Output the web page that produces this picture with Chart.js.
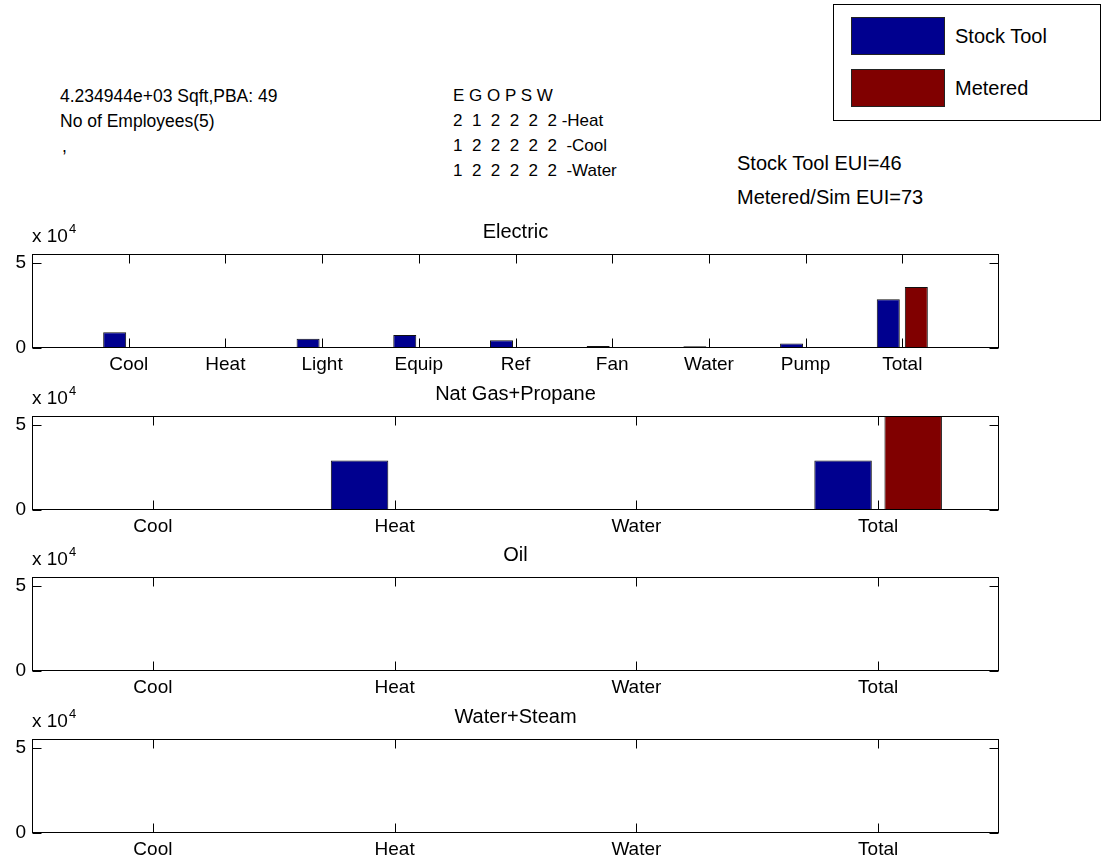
<!DOCTYPE html>
<html>
<head>
<meta charset="utf-8">
<script src="https://cdn.jsdelivr.net/npm/chart.js@4.4.1/dist/chart.umd.min.js"></script>
<style>
  body { margin: 0; background: #fff; }
  #fig { position: relative; width: 1109px; height: 866px; overflow: hidden; background: #fff;
         font-family: "Liberation Sans", Arial, Helvetica, sans-serif; color: #000; }
  .note { position: absolute; white-space: pre; line-height: 22px; }
  .panel { position: absolute; left: 0; width: 1109px; }
  #legend { position: absolute; left: 833px; top: 4px; width: 268px; height: 117px;
            border: 1px solid #000; box-sizing: border-box; background: #fff; }
  #legend .sw { position: absolute; left: 17px; width: 94px; height: 38px; border: 1px solid #222; box-sizing: border-box; }
  #legend .lab { position: absolute; left: 121px; font-size: 20px; line-height: 22px; }
</style>
</head>
<body>
<div id="fig"></div>
<script>
// energy end uses, values in kWh
const electricCats = ['Cool', 'Heat', 'Light', 'Equip', 'Ref', 'Fan', 'Water', 'Pump', 'Total'];
const electricStock = [9200, 0, 5400, 7600, 4500, 1100, 1000, 2700, 28500];
const electricMetered = [0, 0, 0, 0, 0, 0, 0, 0, 35700];

const fuelCats = ['Cool', 'Heat', 'Water', 'Total'];
const gasStock = [0, 29000, 0, 29000];
const gasMetered = [0, 0, 0, 55000];
const oilStock = [0, 0, 0, 0];
const oilMetered = [0, 0, 0, 0];
const steamStock = [0, 0, 0, 0];
const steamMetered = [0, 0, 0, 0];

const seriesNames = ['Stock Tool', 'Metered'];
const seriesColors = ['#00008F', '#800000'];
const yTickValues = [0, 50000];
const yExponent = 4;

const yMax = Math.max(...electricStock, ...electricMetered, ...gasStock, ...gasMetered,
                      ...oilStock, ...oilMetered, ...steamStock, ...steamMetered);

const panels = [
  { title: 'Electric', cats: electricCats, stock: electricStock, metered: electricMetered, xmin: 0, xmax: 10, top: 254 },
  { title: 'Nat Gas+Propane', cats: fuelCats, stock: gasStock, metered: gasMetered, xmin: 0.5, xmax: 4.5, top: 416 },
  { title: 'Oil', cats: fuelCats, stock: oilStock, metered: oilMetered, xmin: 0.5, xmax: 4.5, top: 577 },
  { title: 'Water+Steam', cats: fuelCats, stock: steamStock, metered: steamMetered, xmin: 0.5, xmax: 4.5, top: 739 }
];

const FONT = '"Liberation Sans", Arial, Helvetica, sans-serif';
const AX_H = 94;        // plot box height
const HEAD = 43;        // space above the plot box inside each canvas
const FOOT = 30;        // space for the category labels
const TICK = 9;

const fig = document.getElementById('fig');

// text annotations
function note(text, x, cy, size) {
  const d = document.createElement('div');
  d.className = 'note';
  d.textContent = text;
  d.style.left = x + 'px';
  d.style.top = (cy - 11) + 'px';
  d.style.fontSize = size + 'px';
  fig.appendChild(d);
}
note('4.234944e+03 Sqft,PBA: 49', 60, 96, 17.5);
note('No of Employees(5)', 60, 121, 17.5);
note(',', 62, 146, 17.5);
note('E G O P S W', 453, 96, 17);
note('2  1  2  2  2  2 -Heat', 453, 121, 17);
note('1  2  2  2  2  2  -Cool', 453, 146, 17);
note('1  2  2  2  2  2  -Water', 453, 171, 17);
note('Stock Tool EUI=46', 737, 163, 20);
note('Metered/Sim EUI=73', 737, 197, 20);

// legend
const legend = document.createElement('div');
legend.id = 'legend';
seriesNames.forEach((name, i) => {
  const sw = document.createElement('div');
  sw.className = 'sw';
  sw.style.top = (12 + i * 52) + 'px';
  sw.style.background = seriesColors[i];
  legend.appendChild(sw);
  const lab = document.createElement('div');
  lab.className = 'lab';
  lab.style.top = (20 + i * 52) + 'px';
  lab.textContent = name;
  legend.appendChild(lab);
});
fig.appendChild(legend);

// box, inward ticks and the axis multiplier
const boxPlugin = {
  id: 'box',
  afterDatasetsDraw(chart) {
    const { ctx, chartArea: a, scales: { x, y } } = chart;
    const L = Math.round(a.left) + 0.5, R = Math.round(a.right) - 0.5;
    const T = Math.round(a.top) + 0.5, B = Math.round(a.bottom) - 0.5;
    ctx.save();
    ctx.strokeStyle = '#000';
    ctx.lineWidth = 1;
    ctx.beginPath();
    x.ticks.forEach((t, i) => {
      const px = Math.round(x.getPixelForTick(i)) + 0.5;
      ctx.moveTo(px, B); ctx.lineTo(px, B - TICK);
      ctx.moveTo(px, T); ctx.lineTo(px, T + TICK);
    });
    y.ticks.forEach((t, i) => {
      const py = Math.round(y.getPixelForTick(i)) + 0.5;
      ctx.moveTo(L, py); ctx.lineTo(L + TICK, py);
      ctx.moveTo(R, py); ctx.lineTo(R - TICK, py);
    });
    ctx.stroke();
    ctx.strokeRect(L, T, R - L, B - T);

    ctx.fillStyle = '#000';
    ctx.textBaseline = 'middle';
    ctx.textAlign = 'left';
    ctx.font = '19px ' + FONT;
    const base = 'x 10';
    ctx.fillText(base, a.left, a.top - 17);
    const w = ctx.measureText(base).width;
    ctx.font = '13px ' + FONT;
    ctx.fillText(String(yExponent), a.left + w + 1, a.top - 25);
    ctx.restore();
  }
};

panels.forEach(p => {
  const wrap = document.createElement('div');
  wrap.className = 'panel';
  wrap.style.top = (p.top - HEAD) + 'px';
  wrap.style.height = (HEAD + AX_H + FOOT) + 'px';
  const canvas = document.createElement('canvas');
  wrap.appendChild(canvas);
  fig.appendChild(wrap);

  const series = [p.stock, p.metered];
  new Chart(canvas, {
    type: 'bar',
    data: {
      datasets: series.map((vals, s) => ({
        label: seriesNames[s],
        data: vals.map((v, i) => ({ x: i + 1, y: v })),
        backgroundColor: seriesColors[s],
        borderColor: '#111',
        borderWidth: 1,
        borderSkipped: false,
        categoryPercentage: 0.58,
        barPercentage: 0.82
      }))
    },
    options: {
      responsive: true,
      maintainAspectRatio: false,
      animation: false,
      events: [],
      layout: { autoPadding: false, padding: { left: 0, right: 110, top: 10, bottom: 0 } },
      plugins: {
        legend: { display: false },
        tooltip: { enabled: false },
        title: {
          display: true,
          text: p.title,
          fullSize: false,
          color: '#000',
          font: { family: FONT, size: 20, weight: 'normal', lineHeight: '22px' },
          padding: { top: 0, bottom: 11 }
        }
      },
      scales: {
        x: {
          type: 'linear',
          offset: false,
          min: p.xmin,
          max: p.xmax,
          grid: { display: false, drawTicks: false },
          border: { display: false },
          afterBuildTicks: s => { s.ticks = p.cats.map((c, i) => ({ value: i + 1 })); },
          afterFit: s => { s.height = FOOT; },
          ticks: {
            autoSkip: false,
            maxRotation: 0,
            padding: 5,
            color: '#000',
            font: { family: FONT, size: 19 },
            callback: v => p.cats[v - 1]
          }
        },
        y: {
          min: 0,
          max: yMax,
          grid: { display: false, drawTicks: false },
          border: { display: false },
          afterBuildTicks: s => { s.ticks = yTickValues.map(v => ({ value: v })); },
          afterFit: s => { s.width = 32; },
          ticks: {
            padding: 6,
            color: '#000',
            font: { family: FONT, size: 19 },
            callback: v => v / Math.pow(10, yExponent)
          }
        }
      }
    },
    plugins: [boxPlugin]
  });
});
</script>
</body>
</html>
